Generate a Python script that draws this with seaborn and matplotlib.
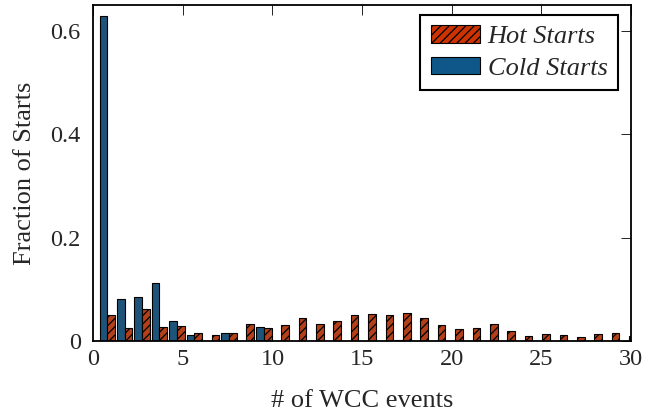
import matplotlib

matplotlib.use("Agg")
import matplotlib.pyplot as plt
import numpy as np
import pandas as pd
import seaborn as sns
from matplotlib.patches import Patch

# Fraction of starts per number of WCC events (0..30)
events = list(range(31))
cold_starts = [0.628, 0.081, 0.085, 0.112, 0.039, 0.011, 0.0, 0.015, 0.0, 0.027,
               0.0, 0.0, 0.0, 0.0, 0.0, 0.0, 0.0, 0.002, 0.0, 0.0,
               0.0, 0.0, 0.0, 0.0, 0.0, 0.0, 0.0, 0.0, 0.0, 0.0, 0.0]
hot_starts = [0.051, 0.025, 0.062, 0.027, 0.029, 0.016, 0.012, 0.015, 0.033, 0.026,
              0.031, 0.044, 0.033, 0.039, 0.051, 0.052, 0.051, 0.054, 0.045, 0.032,
              0.023, 0.025, 0.033, 0.019, 0.010, 0.014, 0.012, 0.008, 0.014, 0.016, 0.010]
xticks = [0, 5, 10, 15, 20, 25, 30]
yticks = [0, 0.2, 0.4, 0.6]

BLUE = "#0f5788"
RED = "#cc3300"

df = pd.DataFrame({
    "events": events * 2,
    "series": ["Cold Starts"] * len(events) + ["Hot Starts"] * len(events),
    "fraction": cold_starts + hot_starts,
})

sns.set_theme(style="white")
plt.rcParams["font.family"] = ["Liberation Serif", "DejaVu Serif"]
plt.rcParams["hatch.linewidth"] = 0.9
plt.rcParams["hatch.color"] = "black"

fig = plt.figure(figsize=(6.57, 4.11), dpi=100)
ax = fig.add_axes([0.142, 0.170, 0.818, 0.818])

sns.barplot(data=df, x="events", y="fraction", hue="series",
            hue_order=["Cold Starts", "Hot Starts"],
            palette={"Cold Starts": BLUE, "Hot Starts": RED},
            width=0.885, edgecolor="black", linewidth=0.8, ax=ax, legend=False)

for bar in ax.containers[1]:
    bar.set_hatch("////")


# value on the "# of WCC events" axis -> category index
def to_cat(x):
    return (np.asarray(x, dtype=float) - 0.78) / 0.971


ax.set_xlim(to_cat(0), to_cat(30))
ax.set_xticks(to_cat(xticks))
ax.set_xticklabels([str(t) for t in xticks])
ax.set_ylim(0, 0.65)
ax.set_yticks(yticks)
ax.set_yticklabels(["0", "0.2", "0.4", "0.6"])
ax.set_axisbelow(True)

ax.tick_params(direction="in", length=7, width=0.6, color="black",
               top=True, right=True, labelsize=17.5)
ax.tick_params(axis="x", pad=6)
ax.tick_params(axis="y", pad=9)
for sp in ax.spines.values():
    sp.set_visible(True)
    sp.set_color("black")
    sp.set_linewidth(1.3)

ax.set_xlabel("# of WCC events", fontsize=19, labelpad=14)
ax.set_ylabel("Fraction of Starts", fontsize=19, labelpad=10.5)

handles = [Patch(facecolor=RED, edgecolor="black", hatch="////", linewidth=0.8),
           Patch(facecolor=BLUE, edgecolor="black", linewidth=0.8)]
leg = ax.legend(handles, ["Hot Starts", "Cold Starts"], loc="upper right",
                bbox_to_anchor=(0.991, 0.994), fancybox=False, framealpha=1,
                prop={"style": "italic", "size": 19}, handlelength=1.85,
                handleheight=0.62, handletextpad=0.3, borderpad=0.4,
                labelspacing=0.32, borderaxespad=0.3)
leg.get_frame().set_edgecolor("black")
leg.get_frame().set_linewidth(1.5)

fig.savefig("out.png", dpi=100)
